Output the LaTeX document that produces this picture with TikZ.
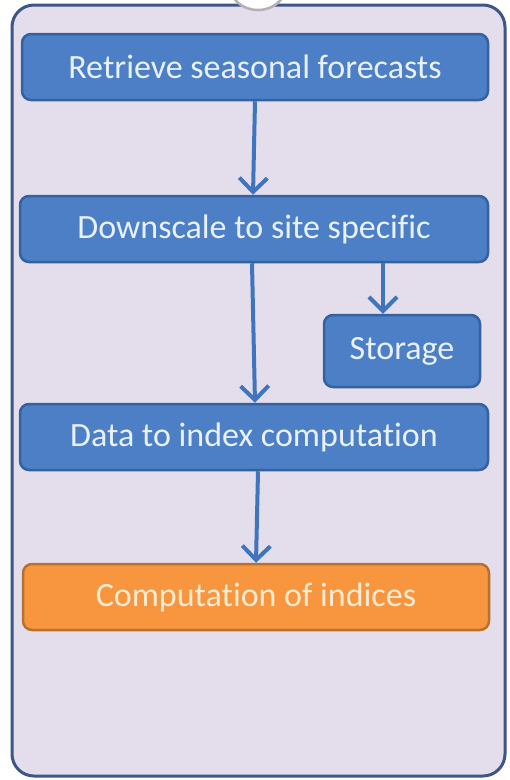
\documentclass[tikz,border=0pt]{standalone}
\usepackage{fontspec}
\setmainfont{Carlito}[Ligatures=NoCommon]
\usetikzlibrary{arrows.meta}
\definecolor{framefill}{HTML}{E4DEEC}
\definecolor{framedraw}{HTML}{3E5687}
\definecolor{bluefill}{HTML}{4C7FC6}
\definecolor{bluedraw}{HTML}{35619E}
\definecolor{bluetext}{HTML}{E8F1FC}
\definecolor{orangefill}{HTML}{F7963F}
\definecolor{orangedraw}{HTML}{B8712E}
\definecolor{orangetext}{HTML}{FFEBD2}
\definecolor{arrowcol}{HTML}{3F74BE}
\tikzset{
  bluebox/.style={draw=bluedraw, fill=bluefill, line width=2.5pt, rounded corners=9pt, text=bluetext, font=\fontsize{34}{38}\selectfont, inner sep=0pt},
  orangebox/.style={draw=orangedraw, fill=orangefill, line width=2.5pt, rounded corners=9pt, text=orangetext, font=\fontsize{34}{38}\selectfont, inner sep=0pt},
  flow/.style={draw=arrowcol, line width=4pt, -{Straight Barb[length=14pt,width=28pt,line width=4pt]}}
}
\begin{document}
\begin{tikzpicture}[x=1pt,y=-1pt]
\useasboundingbox (0,0) rectangle (510,780);
\fill[white] (0,0) rectangle (510,780);
% outer frame
\draw[draw=framedraw, fill=framefill, line width=3pt, rounded corners=22pt] (12,5) rectangle (505,776);
% partial circle at the top
\begin{scope}
\clip (0,0) rectangle (510,780);
\draw[draw=gray!60, fill=white, line width=2.5pt] (258,-14) ellipse [x radius=28pt, y radius=24pt];
\end{scope}
% boxes
\node[bluebox, minimum width=466pt, minimum height=66pt] (b1) at (255,67) {Retrieve seasonal forecasts};
\node[bluebox, minimum width=468pt, minimum height=66pt] (b2) at (254,229) {Downscale to site specific};
\node[bluebox, minimum width=156pt, minimum height=72pt] (st) at (402,351) {Storage};
\node[bluebox, minimum width=468pt, minimum height=66pt] (b3) at (254,437) {Data to index computation};
\node[orangebox, minimum width=466pt, minimum height=66pt] (b4) at (256,597) {Computation of indices};
% connectors
\draw[flow] (b1.south -| 255,0) -- (b2.north -| 253,0);
\draw[flow] (b2.south -| 252,0) -- (b3.north -| 255,0);
\draw[flow] (b2.south -| 383,0) -- (st.north -| 383,0);
\draw[flow] (b3.south -| 258,0) -- (b4.north -| 256,0);
\end{tikzpicture}
\end{document}
